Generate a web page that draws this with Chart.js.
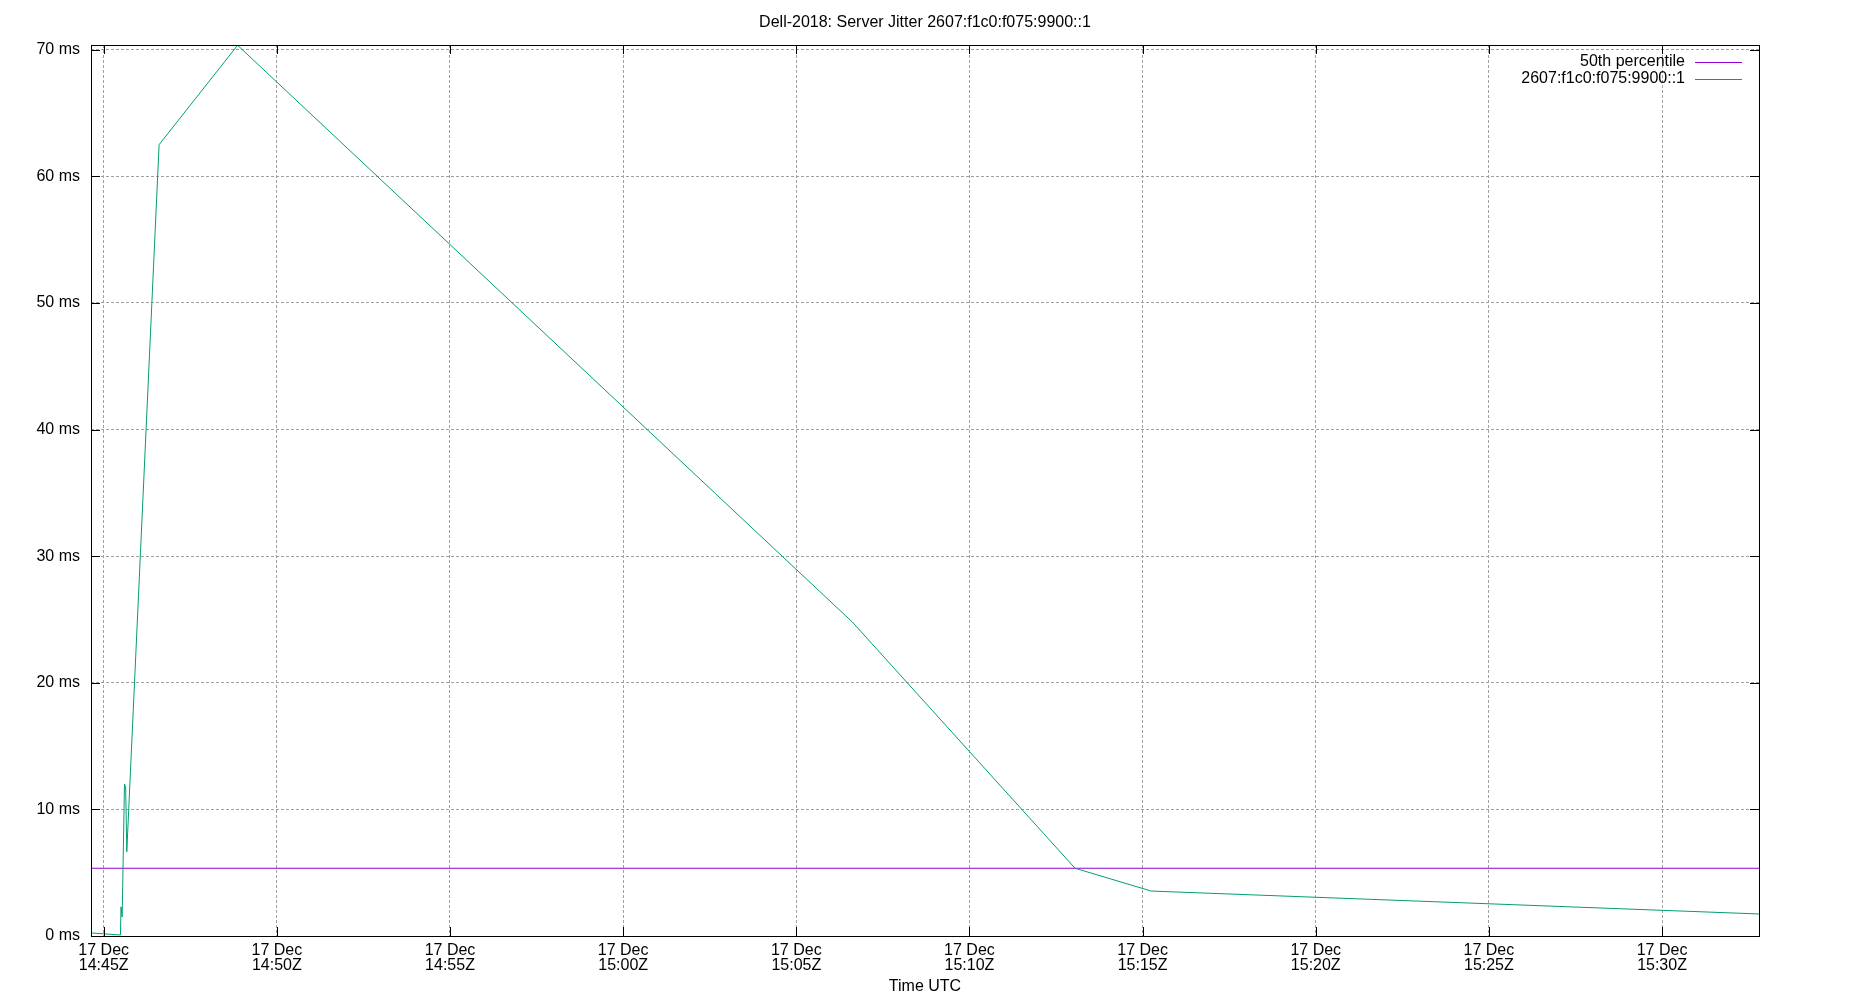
<!DOCTYPE html>
<html>
<head>
<meta charset="utf-8">
<style>
  html, body { margin: 0; padding: 0; background: #ffffff; }
  #wrap { width: 1850px; height: 1000px; }
</style>
<script src="https://cdn.jsdelivr.net/npm/chart.js@4.4.1/dist/chart.umd.min.js"></script>
</head>
<body>
<div id="wrap"><canvas id="c" width="1850" height="1000"></canvas></div>
<script>
// ---- data ----
const chartTitle = 'Dell-2018: Server Jitter 2607:f1c0:f075:9900::1';
const xAxisTitle = 'Time UTC';
const dateLabel = '17 Dec';
const seriesLabels = ['50th percentile', '2607:f1c0:f075:9900::1'];
const jitterTimes = ['14:44:38', '14:45:29', '14:45:30', '14:45:32', '14:45:36', '14:45:38', '14:45:40',
                     '14:46:36', '14:48:52', '15:06:37', '15:13:03', '15:15:15', '15:32:48'];
const jitterValues = [0.24, 0.08, 2.3, 1.5, 12.0, 11.8, 6.65, 62.5, 70.35, 24.8, 5.35, 3.55, 1.74];
const percentile50 = 5.35;
const xTickTimes = ['14:45', '14:50', '14:55', '15:00', '15:05', '15:10', '15:15', '15:20', '15:25', '15:30'];
const yTickValues = [0, 10, 20, 30, 40, 50, 60, 70];
const yMax = 70.37;

// ---- helpers ----
function toSec(t) {
  const p = t.split(':').map(Number);
  return p[0] * 3600 + p[1] * 60 + (p[2] || 0);
}
function fmtTime(s) {
  const h = Math.floor(s / 3600), m = Math.floor((s % 3600) / 60);
  return String(h).padStart(2, '0') + ':' + String(m).padStart(2, '0') + 'Z';
}
const jitterPoints = jitterTimes.map((t, i) => ({ x: toSec(t), y: jitterValues[i] }));
const xMin = toSec(jitterTimes[0]);
const xMax = toSec(jitterTimes[jitterTimes.length - 1]);
const percentilePoints = [{ x: xMin, y: percentile50 }, { x: xMax, y: percentile50 }];
const xTickVals = xTickTimes.map(toSec);

const FONT = '"Liberation Sans", Arial, sans-serif';
const GREEN = '#009e73';
const PURPLE = '#9400d3';

const decorPlugin = {
  id: 'decor',
  afterDraw(chart) {
    const ctx = chart.ctx;
    const a = chart.chartArea;
    const xs = chart.scales.x, ys = chart.scales.y;
    ctx.save();
    // border
    ctx.strokeStyle = '#000';
    ctx.lineWidth = 1;
    ctx.setLineDash([]);
    ctx.strokeRect(Math.round(a.left) + 0.5, Math.round(a.top) + 0.5,
                   Math.round(a.right - a.left), Math.round(a.bottom - a.top));
    // inward tick marks
    const tl = 9;
    ctx.beginPath();
    xs.ticks.forEach(t => {
      const px = Math.round(xs.getPixelForValue(t.value)) + 0.5;
      ctx.moveTo(px, a.bottom); ctx.lineTo(px, a.bottom - tl);
      ctx.moveTo(px, a.top); ctx.lineTo(px, a.top + tl);
    });
    ys.ticks.forEach(t => {
      const py = Math.round(ys.getPixelForValue(t.value)) + 0.5;
      ctx.moveTo(a.left, py); ctx.lineTo(a.left + tl, py);
      ctx.moveTo(a.right, py); ctx.lineTo(a.right - tl, py);
    });
    ctx.stroke();
    // title
    ctx.fillStyle = '#000';
    ctx.font = '16px ' + FONT;
    ctx.textAlign = 'center';
    ctx.textBaseline = 'middle';
    ctx.fillText(chartTitle, chart.width / 2, 23);
    // x axis title
    ctx.fillText(xAxisTitle, (a.left + a.right) / 2, 987);
    // legend
    const ds = chart.data.datasets;
    const rows = [62, 78.5];
    ds.forEach((d, i) => {
      ctx.textAlign = 'right';
      ctx.fillStyle = '#000';
      ctx.fillText(d.label, 1685, rows[i]);
      ctx.strokeStyle = d.borderColor;
      ctx.lineWidth = 1;
      ctx.beginPath();
      ctx.moveTo(1695, Math.round(rows[i]) + 0.5);
      ctx.lineTo(1742, Math.round(rows[i]) + 0.5);
      ctx.stroke();
    });
    ctx.restore();
  }
};

new Chart(document.getElementById('c'), {
  type: 'line',
  data: {
    datasets: [
      { label: seriesLabels[0], data: percentilePoints, borderColor: PURPLE, borderWidth: 1,
        pointRadius: 0, tension: 0, fill: false, order: 2 },
      { label: seriesLabels[1], data: jitterPoints, borderColor: GREEN, borderWidth: 1,
        pointRadius: 0, tension: 0, fill: false, order: 1 }
    ]
  },
  options: {
    responsive: false,
    devicePixelRatio: 1,
    animation: false,
    layout: { padding: { left: 0, right: 91, top: 45, bottom: 0 } },
    plugins: { legend: { display: false }, title: { display: false }, tooltip: { enabled: false } },
    scales: {
      x: {
        type: 'linear',
        min: xMin, max: xMax,
        afterBuildTicks: s => { s.ticks = xTickVals.map(v => ({ value: v })); },
        afterFit: s => { s.height = 64; },
        ticks: {
          autoSkip: false, maxRotation: 0, padding: 7, color: '#000',
          font: { family: FONT, size: 16, lineHeight: 0.95 },
          callback: v => [dateLabel, fmtTime(v)]
        },
        grid: { color: '#a0a0a0', lineWidth: 1, drawTicks: false },
        border: { display: false, dash: [3, 2] }
      },
      y: {
        type: 'linear',
        min: 0, max: yMax,
        afterBuildTicks: s => { s.ticks = yTickValues.map(v => ({ value: v })); },
        afterFit: s => { s.width = 91; },
        ticks: {
          padding: 11, color: '#000',
          font: { family: FONT, size: 16 },
          callback: v => v + ' ms'
        },
        grid: { color: '#a0a0a0', lineWidth: 1, drawTicks: false },
        border: { display: false, dash: [3, 2] }
      }
    }
  },
  plugins: [decorPlugin]
});
</script>
</body>
</html>
